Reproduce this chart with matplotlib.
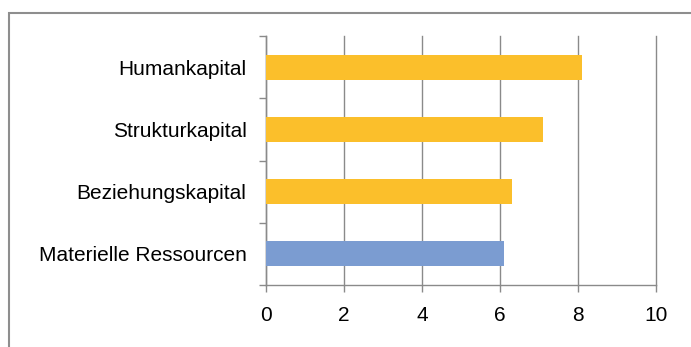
import matplotlib
matplotlib.use("Agg")
import matplotlib.pyplot as plt
from matplotlib.patches import Rectangle

# === Daten ===
kategorien = ["Materielle Ressourcen", "Beziehungskapital", "Strukturkapital", "Humankapital"]
werte = [6.1, 6.3, 7.1, 8.1]
farben = ["#7B9CD1", "#FBBF2B", "#FBBF2B", "#FBBF2B"]
x_ticks = [0, 2, 4, 6, 8, 10]

plt.rcParams["font.family"] = ["Liberation Sans", "DejaVu Sans"]

fig = plt.figure(figsize=(6.91, 3.47), dpi=100)
ax = fig.add_axes([266 / 691, 1 - 285 / 347, 390 / 691, 249 / 347])

# Rahmen um das Diagramm
fig.patches.append(Rectangle((9 / 691, -0.1), 1.2, 1.1 - 13 / 347,
                             transform=fig.transFigure, fill=False,
                             edgecolor="#8E8E8E", linewidth=1.5))

pos = list(range(len(kategorien)))
ax.barh(pos, werte, height=0.4, color=farben, zorder=3)

ax.set_xlim(0, 10)
ax.set_ylim(-0.5, len(kategorien) - 0.5)
ax.set_xticks(x_ticks)
ax.set_xticklabels([str(t) for t in x_ticks], fontsize=15)
ax.set_yticks(pos)
ax.set_yticklabels(kategorien, fontsize=15)
ax.set_yticks([p - 0.5 for p in range(len(kategorien) + 1)], minor=True)

ax.grid(axis="x", color="#8A8A8A", linewidth=1.0, zorder=0)
for line in ax.get_xgridlines():
    line.set_clip_on(False)
for s in ["top", "right"]:
    ax.spines[s].set_visible(False)
for s in ["left", "bottom"]:
    ax.spines[s].set_color("#8A8A8A")
    ax.spines[s].set_linewidth(1.0)

ax.tick_params(axis="y", which="major", length=0, pad=14)
ax.tick_params(axis="y", which="minor", length=5, color="#8A8A8A", width=1.0)
ax.tick_params(axis="x", length=5, color="#8A8A8A", width=1.0, pad=10)

plt.savefig("out.png", dpi=100)
plt.close()
